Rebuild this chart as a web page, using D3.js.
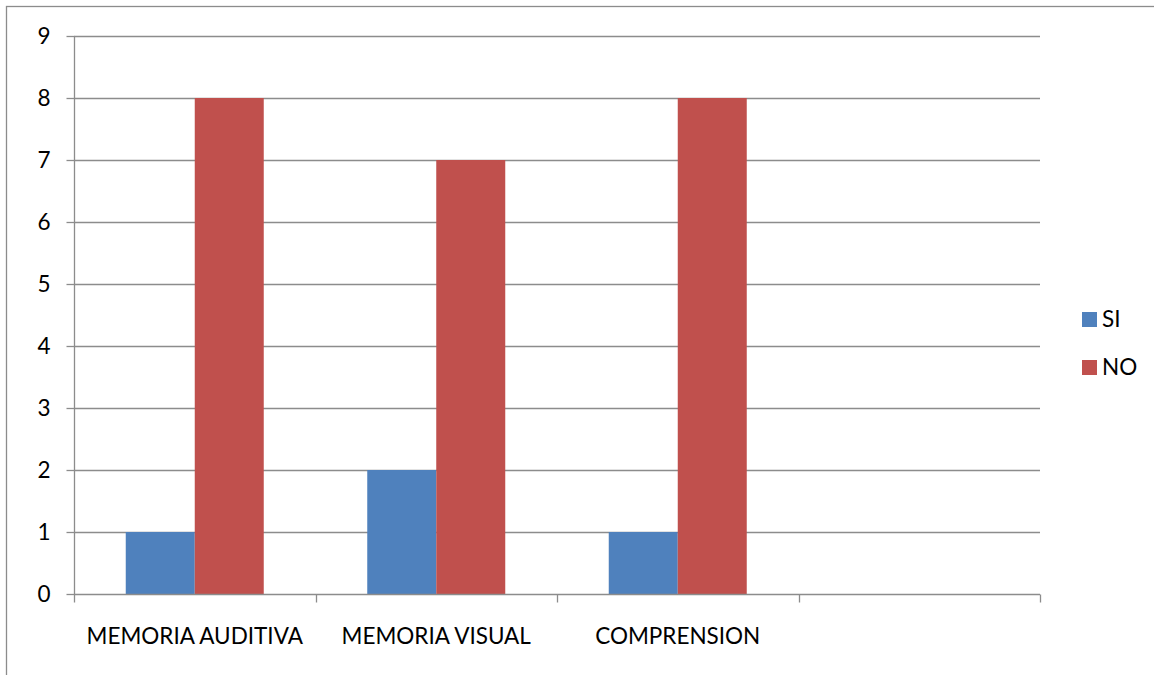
<!DOCTYPE html>
<html>
<head>
<meta charset="utf-8">
<script src="https://cdn.jsdelivr.net/npm/d3@7"></script>
<style>
  html, body { margin: 0; padding: 0; background: #fff; }
  svg { display: block; font-family: Lato, "Liberation Sans", sans-serif; }
</style>
</head>
<body>
<svg id="chart" width="1154" height="675"></svg>
<script>
// categories (4th slot is empty in the original)
var categories = ["MEMORIA AUDITIVA", "MEMORIA VISUAL", "COMPRENSION", ""];
var seriesNames = ["SI", "NO"];
var siValues = [1, 2, 1, null];
var noValues = [8, 7, 8, null];
var yTicks = [0, 1, 2, 3, 4, 5, 6, 7, 8, 9];
var colors = ["#4F81BD", "#C0504D"];

var svg = d3.select("#chart");
var plotL = 74, plotR = 1040, plotT = 36, plotB = 594;
var fs = 22.5;

// outer frame
svg.append("rect")
  .attr("x", 6.5).attr("y", 6.5)
  .attr("width", 1200).attr("height", 700)
  .attr("fill", "none").attr("stroke", "#8c8c8c").attr("stroke-width", 1.3);

var x = d3.scaleBand().domain(d3.range(categories.length)).range([plotL, plotR]).padding(0);
var x1 = d3.scaleBand().domain(seriesNames).range([0, x.bandwidth()]).paddingInner(0).paddingOuter(0.75);
var y = d3.scaleLinear().domain([0, 9]).range([plotB, plotT]);

// gridlines
svg.append("g").selectAll("line").data(yTicks.filter(function(d){ return d > 0; }))
  .enter().append("line")
  .attr("x1", plotL).attr("x2", plotR)
  .attr("y1", function(d){ return Math.round(y(d)) + 0.5; })
  .attr("y2", function(d){ return Math.round(y(d)) + 0.5; })
  .attr("stroke", "#8c8c8c").attr("stroke-width", 1.3);

// bars
var rows = categories.map(function(c, i){
  return [{s: "SI", v: siValues[i], i: i}, {s: "NO", v: noValues[i], i: i}];
});
svg.append("g").selectAll("g").data(rows).enter().append("g")
  .attr("transform", function(d, i){ return "translate(" + x(i) + ",0)"; })
  .selectAll("rect").data(function(d){ return d.filter(function(e){ return e.v != null; }); })
  .enter().append("rect")
  .attr("x", function(d){ return x1(d.s); })
  .attr("width", x1.bandwidth())
  .attr("y", function(d){ return y(d.v); })
  .attr("height", function(d){ return y(0) - y(d.v); })
  .attr("fill", function(d){ return colors[seriesNames.indexOf(d.s)]; });

// y axis
var yAxis = svg.append("g").attr("transform", "translate(" + (plotL + 0.5) + ",0)")
  .call(d3.axisLeft(y).tickValues(yTicks).tickSize(8).tickPadding(16).tickFormat(d3.format("d")))
  .attr("font-family", null).attr("font-size", fs);
yAxis.select(".domain").attr("stroke", "#8c8c8c").attr("stroke-width", 1.3).attr("d", "M0," + plotT + "V" + plotB);
yAxis.selectAll(".tick line").attr("stroke", "#8c8c8c").attr("stroke-width", 1.3);
yAxis.selectAll(".tick text").attr("fill", "#000");

// x axis
var xAxis = svg.append("g").attr("transform", "translate(0," + (plotB + 0.5) + ")");
xAxis.append("line").attr("x1", plotL).attr("x2", plotR).attr("stroke", "#8c8c8c").attr("stroke-width", 1.3);
var edges = d3.range(categories.length + 1).map(function(i){ return plotL + i * x.step(); });
xAxis.selectAll("line.tk").data(edges).enter().append("line").attr("class", "tk")
  .attr("x1", function(d){ return Math.round(d) + 0.5; }).attr("x2", function(d){ return Math.round(d) + 0.5; })
  .attr("y1", 0).attr("y2", 8).attr("stroke", "#8c8c8c").attr("stroke-width", 1.3);
xAxis.selectAll("text").data(categories).enter().append("text")
  .attr("x", function(d, i){ return x(i) + x.bandwidth() / 2; })
  .attr("y", 49)
  .attr("text-anchor", "middle").attr("font-size", fs).attr("fill", "#000")
  .text(function(d){ return d; });

// legend
var legend = svg.append("g").selectAll("g").data(seriesNames).enter().append("g")
  .attr("transform", function(d, i){ return "translate(1082," + (312 + i * 48) + ")"; });
legend.append("rect").attr("width", 15).attr("height", 15)
  .attr("fill", function(d, i){ return colors[i]; });
legend.append("text").attr("x", 20).attr("y", 15).attr("font-size", fs).attr("fill", "#000")
  .text(function(d){ return d; });
</script>
</body>
</html>
